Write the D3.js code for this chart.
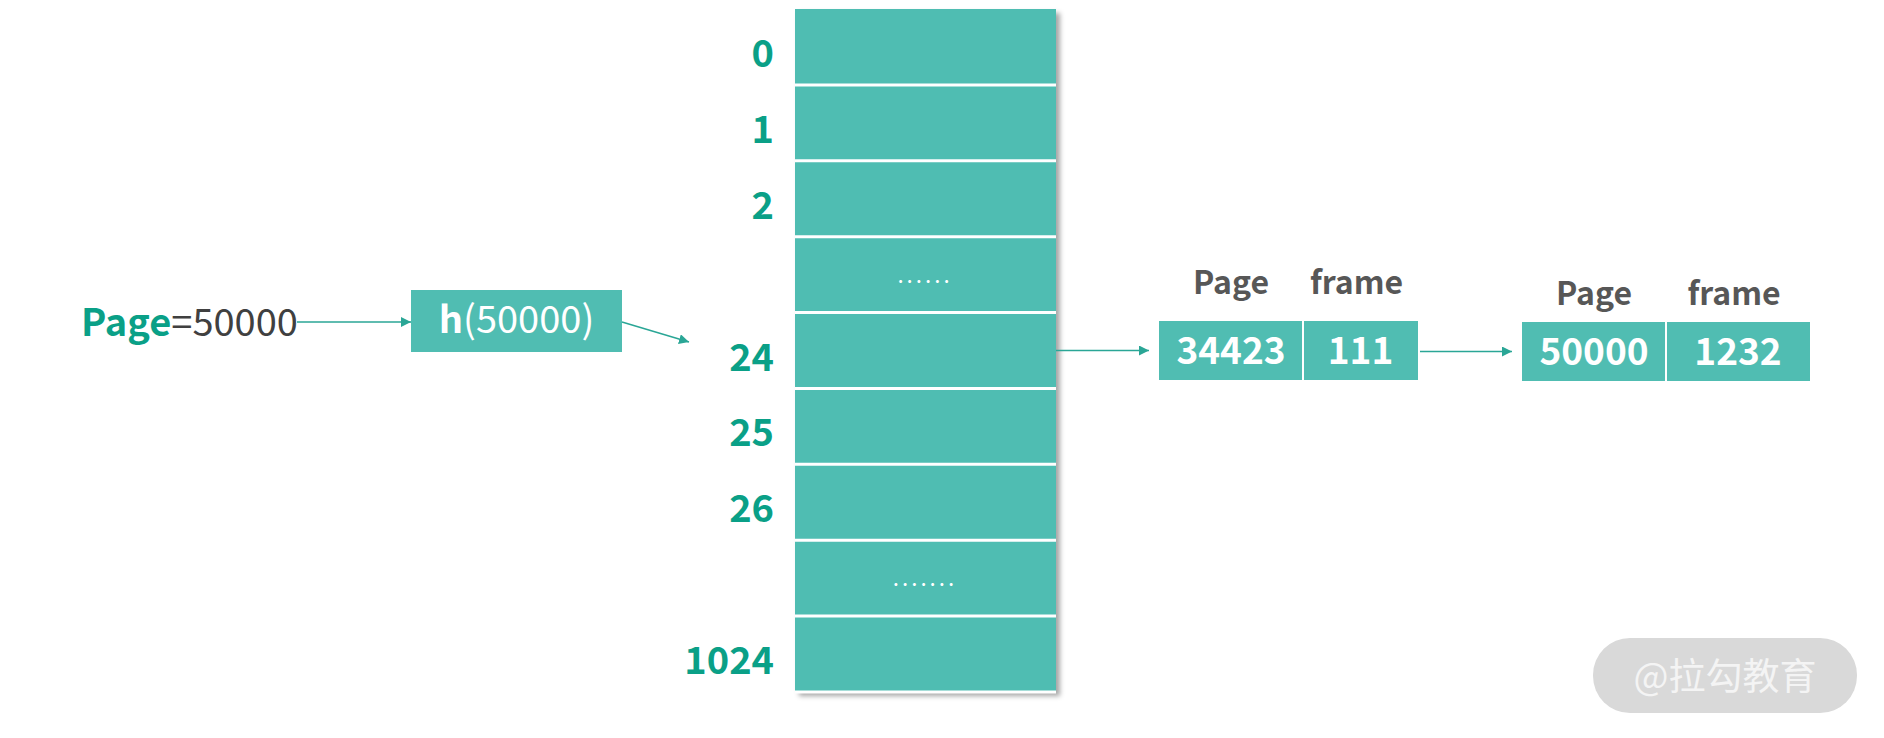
<!DOCTYPE html>
<html>
<head>
<meta charset="utf-8">
<script src="https://cdn.jsdelivr.net/npm/d3@7"></script>
<style>
  html, body { margin: 0; padding: 0; background: #fff; }
  svg text { font-family: "Noto Sans CJK SC", "Noto Sans", sans-serif; }
</style>
</head>
<body>
<svg width="1884" height="738"></svg>
<script>
// hash table slots, left labels ("" = skipped slot shown with dots)
var slotLabels = ["0", "1", "2", "", "24", "25", "26", "", "1024"];
var slotDots = ["", "", "", "......", "", "", "", ".......", ""];
// the slot that page 50000 hashes to
var hitSlot = 4;
// chained entries hanging off slot 24
var chainPages = [34423, 50000];
var chainFrames = [111, 1232];
var chainHeaders = ["Page", "frame"];
var inputPage = 50000;
var hashLabel = "h";
var watermark = "@拉勾教育";

var teal = "#50bdb2",
    labelTeal = "#0aa087",
    arrowTeal = "#2aa696",
    gray = "#575757";

var svg = d3.select("svg");

var defs = svg.append("defs");
defs.append("marker")
    .attr("id", "arrow")
    .attr("viewBox", "0 0 10 10")
    .attr("refX", 10)
    .attr("refY", 5)
    .attr("markerWidth", 10)
    .attr("markerHeight", 10)
    .attr("markerUnits", "userSpaceOnUse")
    .attr("orient", "auto")
    .append("path")
    .attr("d", "M0,0L10,5L0,10Z")
    .attr("fill", arrowTeal);
var shadow = defs.append("filter")
    .attr("id", "shadow")
    .attr("x", "-10%").attr("y", "-10%")
    .attr("width", "130%").attr("height", "130%");
shadow.append("feDropShadow")
    .attr("dx", 4).attr("dy", 4)
    .attr("stdDeviation", 2.5)
    .attr("flood-color", "#000")
    .attr("flood-opacity", 0.35);

// ---- the slot column
var y = d3.scaleBand()
    .domain(d3.range(slotLabels.length))
    .range([9, 692]);
var colX = 795, colW = 261;

var col = svg.append("g");
col.append("rect")
    .attr("x", colX)
    .attr("y", y.range()[0])
    .attr("width", colW)
    .attr("height", y.range()[1] - y.range()[0])
    .attr("fill", teal)
    .attr("filter", "url(#shadow)");

col.selectAll("line.div")
    .data(d3.range(1, slotLabels.length + 1))
    .enter()
    .append("line")
    .attr("class", "div")
    .attr("x1", colX)
    .attr("x2", colX + colW)
    .attr("y1", function(d) { return d === slotLabels.length ? y.range()[1] : y(d); })
    .attr("y2", function(d) { return d === slotLabels.length ? y.range()[1] : y(d); })
    .attr("stroke", "#fff")
    .attr("stroke-width", 3);

col.selectAll("text.dots")
    .data(slotDots)
    .enter()
    .append("text")
    .attr("class", "dots")
    .attr("x", colX + colW / 2)
    .attr("y", function(d, i) { return y(i) + y.bandwidth() / 2 + 8; })
    .attr("text-anchor", "middle")
    .attr("fill", "#fff")
    .attr("font-size", 16)
    .attr("font-weight", "bold")
    .attr("letter-spacing", 4)
    .text(function(d) { return d; });

svg.append("g").selectAll("text")
    .data(slotLabels)
    .enter()
    .append("text")
    .attr("x", 774)
    .attr("y", function(d, i) { return y(i) + y.bandwidth() / 2 + 20; })
    .attr("text-anchor", "end")
    .attr("fill", labelTeal)
    .attr("font-size", 38)
    .attr("font-weight", "bold")
    .text(function(d) { return d; });

// ---- input page and hash box
var inp = svg.append("text")
    .attr("x", 81)
    .attr("y", 336)
    .attr("font-size", 38);
inp.append("tspan").attr("fill", labelTeal).attr("font-weight", "bold").text("Page");
inp.append("tspan").attr("fill", "#404040").text("=" + inputPage);

var hBox = {x: 411, y: 290, w: 211, h: 62};
svg.append("rect")
    .attr("x", hBox.x).attr("y", hBox.y)
    .attr("width", hBox.w).attr("height", hBox.h)
    .attr("fill", teal);
var ht = svg.append("text")
    .attr("x", hBox.x + hBox.w / 2)
    .attr("y", 333)
    .attr("text-anchor", "middle")
    .attr("fill", "#fff")
    .attr("font-size", 38);
ht.append("tspan").attr("font-weight", "bold").text(hashLabel);
ht.append("tspan").text("(" + inputPage + ")");

function arrow(x1, y1, x2, y2) {
    svg.append("line")
        .attr("x1", x1).attr("y1", y1)
        .attr("x2", x2).attr("y2", y2)
        .attr("stroke", arrowTeal)
        .attr("stroke-width", 1.5)
        .attr("marker-end", "url(#arrow)");
}
arrow(297, 322, hBox.x, 322);
arrow(hBox.x + hBox.w, 322, 689, 342);

// ---- chain of (page, frame) entries
var nodeX = d3.scaleLinear().domain([0, 1]).range([1159, 1522]);
var nodeTop = [321, 322];
var headerDrop = [0, 10];
var pageW = 144, frameW = [115, 144], cellH = 59;
var hitY = y(hitSlot) + y.bandwidth() / 2;

arrow(colX + colW, hitY, nodeX(0) - 10, hitY);

chainPages.forEach(function(p, i) {
    var x0 = nodeX(i), t = nodeTop[i], fw = frameW[i];
    var g = svg.append("g");
    g.append("rect")
        .attr("x", x0).attr("y", t)
        .attr("width", pageW + fw).attr("height", cellH)
        .attr("fill", teal);
    g.append("line")
        .attr("x1", x0 + pageW).attr("x2", x0 + pageW)
        .attr("y1", t).attr("y2", t + cellH)
        .attr("stroke", "#fff").attr("stroke-width", 2);
    var centers = [x0 + pageW / 2, x0 + pageW + fw / 2];
    [p, chainFrames[i]].forEach(function(v, k) {
        g.append("text")
            .attr("x", centers[k])
            .attr("y", t + cellH / 2 + 13)
            .attr("text-anchor", "middle")
            .attr("fill", "#fff")
            .attr("font-size", 37)
            .attr("font-weight", "bold")
            .text(v);
    });
    chainHeaders.forEach(function(h, k) {
        g.append("text")
            .attr("x", centers[k] + (k === 1 ? -4 : 0))
            .attr("y", t - 27 + headerDrop[i])
            .attr("text-anchor", "middle")
            .attr("fill", gray)
            .attr("font-size", 32)
            .attr("font-weight", "bold")
            .text(h);
    });
    if (i < chainPages.length - 1) {
        arrow(x0 + pageW + fw + 2, t + cellH / 2 + 1, nodeX(i + 1) - 10, t + cellH / 2 + 1);
    }
});

// ---- watermark
svg.append("rect")
    .attr("x", 1593).attr("y", 638)
    .attr("width", 264).attr("height", 75)
    .attr("rx", 37)
    .attr("fill", "#d9d9d9");
svg.append("text")
    .attr("x", 1725)
    .attr("y", 690)
    .attr("text-anchor", "middle")
    .attr("fill", "#f4f4f4")
    .attr("font-size", 37)
    .text(watermark);
</script>
</body>
</html>
